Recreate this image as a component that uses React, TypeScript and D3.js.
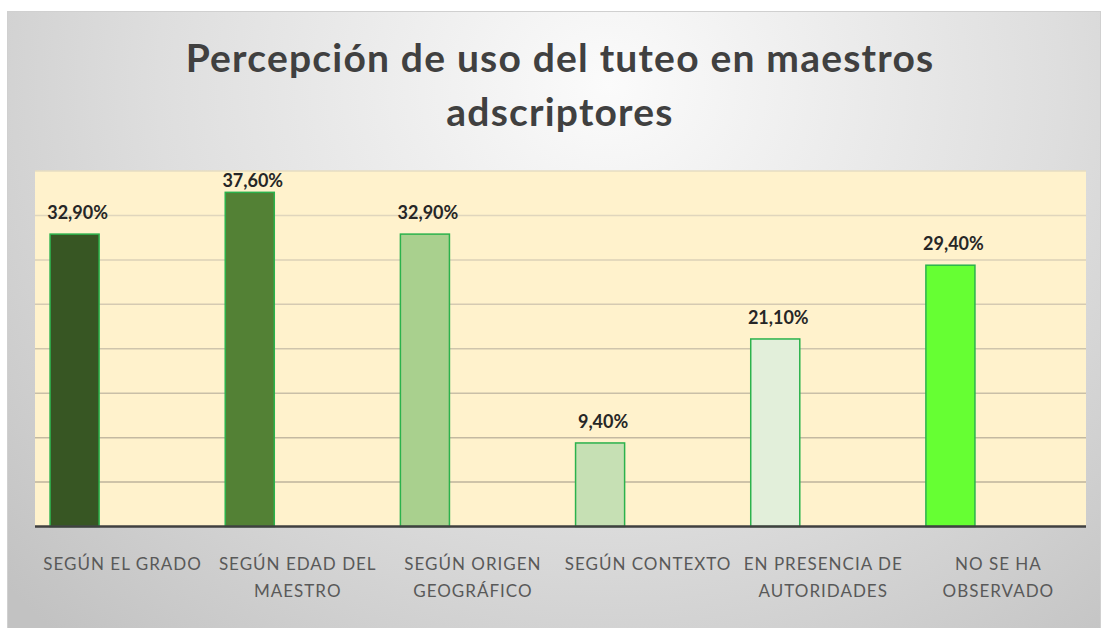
import React from 'react';
import * as d3 from 'd3';

const categories = [
  ['SEGÚN EL GRADO'],
  ['SEGÚN EDAD DEL', 'MAESTRO'],
  ['SEGÚN ORIGEN', 'GEOGRÁFICO'],
  ['SEGÚN CONTEXTO'],
  ['EN PRESENCIA DE', 'AUTORIDADES'],
  ['NO SE HA', 'OBSERVADO'],
];
const values = [32.9, 37.6, 32.9, 9.4, 21.1, 29.4];
const valueLabels = ['32,90%', '37,60%', '32,90%', '9,40%', '21,10%', '29,40%'];
const barColors = ['#375623', '#538135', '#a9d08e', '#c6e0b4', '#e2efda', '#66ff33'];
const yTicks = [0, 5, 10, 15, 20, 25, 30, 35, 40];
const titleLines = ['Percepción de uso del tuteo en maestros', 'adscriptores'];

const W = 1101;
const H = 628;
const plot = { left: 35, right: 1086, top: 171, bottom: 526.5 };

const App: React.FC = () => {
  const x = d3.scaleBand<number>()
    .domain(values.map((_, i) => i))
    .range([plot.left, plot.right])
    .padding(0);
  const y = d3.scaleLinear().domain([0, 40]).range([plot.bottom, plot.top]);

  const barOffset = x.bandwidth() * 0.086; // bars sit left inside their category
  const barW = x.bandwidth() * 0.28;
  const gridColor = d3.interpolateRgb('#e6dcc2', '#b8ad96');

  return (
    <svg width={W} height={H} style={{ position: 'absolute', left: 0, top: 0 }}
      fontFamily="Lato, 'Open Sans', sans-serif">
      <defs>
        <radialGradient id="bg" cx="0.55" cy="0.12" r="0.75" gradientTransform="translate(0.55 0.12) scale(1 1.6) translate(-0.55 -0.12)">
          <stop offset="0" stopColor="#fbfbfb" />
          <stop offset="0.55" stopColor="#dedede" />
          <stop offset="1" stopColor="#c2c2c2" />
        </radialGradient>
      </defs>
      <rect x={0} y={0} width={W} height={H} fill="#ffffff" />
      <rect x={7.5} y={11.5} width={W - 8} height={H - 11} fill="url(#bg)" stroke="#d0d0d0" strokeWidth={1} />

      {titleLines.map((t, i) => (
        <text key={t} x={560} y={72 + i * 54} textAnchor="middle" fontSize={39}
          fontWeight={700} fill="#404040" letterSpacing={1.2}>{t}</text>
      ))}

      <rect x={plot.left} y={plot.top} width={plot.right - plot.left} height={plot.bottom - plot.top} fill="#fff2cc" />
      {yTicks.slice(1).map(t => (
        <line key={t} x1={plot.left} x2={plot.right} y1={y(t)} y2={y(t)}
          stroke={gridColor(1 - t / 40)} strokeWidth={1.5} />
      ))}

      {values.map((v, i) => {
        const bx = (x(i) || 0) + barOffset;
        return (
          <rect key={i} x={bx} y={y(v)} width={barW} height={plot.bottom - y(v)}
            fill={barColors[i]} stroke="#2bb24c" strokeWidth={1.5} />
        );
      })}

      {values.map((v, i) => {
        const cx = (x(i) || 0) + barOffset + barW / 2 + 3;
        const ly = Math.max(y(v) - 15, plot.top + 16);
        return (
          <text key={i} x={cx} y={ly} textAnchor="middle" fontSize={18} fontWeight={700} fill="#262626">
            {valueLabels[i]}
          </text>
        );
      })}

      <line x1={plot.left} x2={plot.right} y1={plot.bottom} y2={plot.bottom} stroke="#404040" strokeWidth={2.5} />

      {categories.map((lines, i) => (
        <text key={i} textAnchor="middle" fontSize={17} fill="#595959" letterSpacing={1}>
          {lines.map((l, j) => (
            <tspan key={j} x={(x(i) || 0) + x.bandwidth() / 2} y={570 + j * 27}>{l}</tspan>
          ))}
        </text>
      ))}
    </svg>
  );
};

export default App;
